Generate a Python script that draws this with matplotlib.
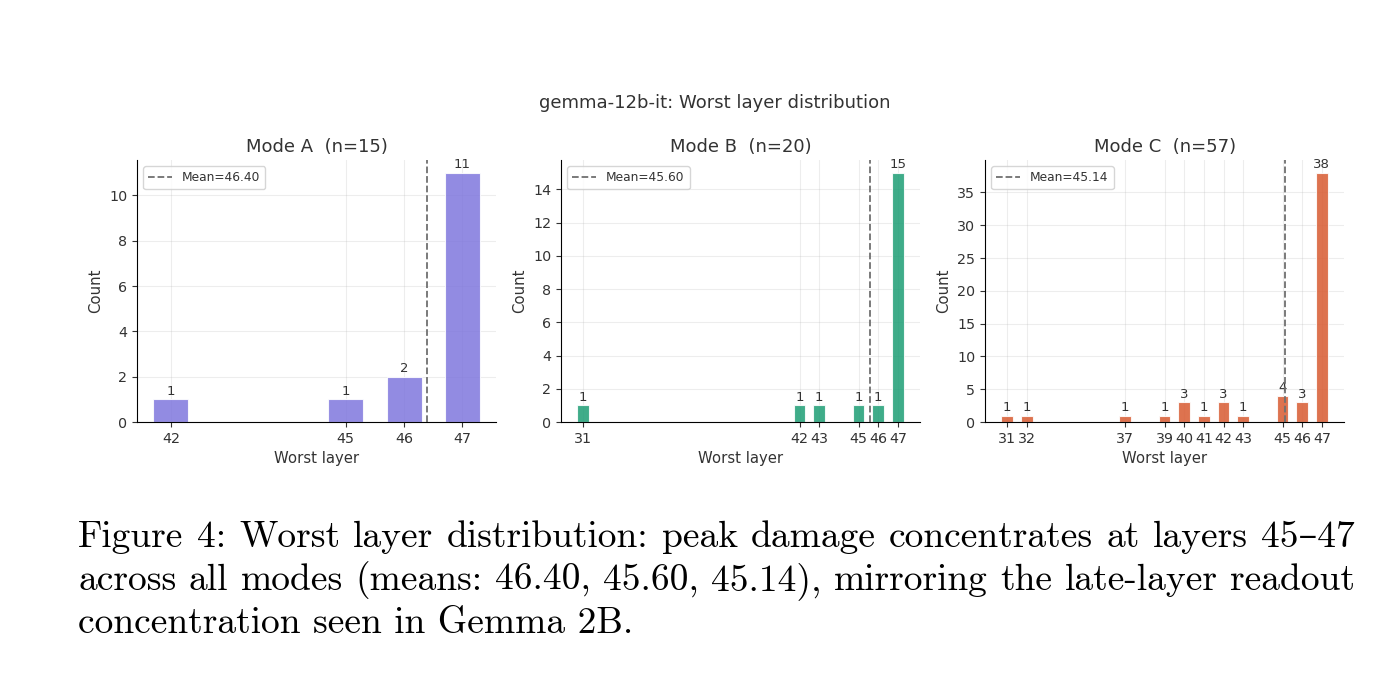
import matplotlib
matplotlib.use("Agg")
import matplotlib.pyplot as plt

# worst layer histograms per mode
layers_a = [42, 45, 46, 47]
counts_a = [1, 1, 2, 11]
layers_b = [31, 42, 43, 45, 46, 47]
counts_b = [1, 1, 1, 1, 1, 15]
layers_c = [31, 32, 37, 39, 40, 41, 42, 43, 45, 46, 47]
counts_c = [1, 1, 1, 1, 3, 1, 3, 1, 4, 3, 38]

modes = ["A", "B", "C"]
colors = ["#7F77DD", "#1D9E75", "#D85A30"]

caption = [
    "Figure 4:  Worst layer distribution:  peak damage concentrates at layers 45\u201347",
    "across all modes (means:  46.40, 45.60, 45.14), mirroring the late-layer readout",
    "concentration seen in Gemma 2B.",
]

plt.rcParams['font.family'] = ['DejaVu Sans']
plt.rcParams['text.color'] = '#333333'
plt.rcParams['axes.labelcolor'] = '#333333'
plt.rcParams['xtick.color'] = '#333333'
plt.rcParams['ytick.color'] = '#333333'

fig = plt.figure(figsize=(13.92, 7), dpi=100)
fig.text(715 / 1392, 1 - 103 / 700, "gemma-12b-it: Worst layer distribution",
         ha='center', va='center', fontsize=13)

data = [(layers_a, counts_a), (layers_b, counts_b), (layers_c, counts_c)]
lefts = [137, 561, 985]
for i, (layers, counts) in enumerate(data):
    ax = fig.add_axes([lefts[i] / 1392, 0.397, 0.258, 0.374])
    bars = ax.bar(layers, counts, width=0.6, color=colors[i], alpha=0.85,
                  edgecolor='white', linewidth=0.8, zorder=2)
    ax.bar_label(bars, fontsize=9.5, padding=1, color='#333333')
    mean = sum(l * c for l, c in zip(layers, counts)) / sum(counts)
    ax.axvline(mean, color='#707070', linestyle='--', linewidth=1.3,
               label="Mean=%.2f" % mean, zorder=3)
    ax.set_xticks(layers)
    ax.set_title("Mode %s  (n=%d)" % (modes[i], sum(counts)), fontsize=13)
    ax.set_xlabel("Worst layer", fontsize=10.7)
    ax.set_ylabel("Count", fontsize=10.7)
    ax.tick_params(labelsize=10.3)
    ax.grid(True, alpha=0.22, zorder=0)
    ax.set_axisbelow(True)
    ax.spines['top'].set_visible(False)
    ax.spines['right'].set_visible(False)
    ax.legend(loc='upper left', fontsize=8.8)

# caption, first two lines justified
r = fig.canvas.get_renderer()
x0, x1 = 78, 1355
baselines = [547, 590, 633]
for k, line in enumerate(caption):
    y = 1 - baselines[k] / 700
    kw = dict(fontsize=27, family=['cmr10', 'DejaVu Serif'], color='black', va='baseline')
    if k == len(caption) - 1:
        fig.text(x0 / 1392, y, line, **kw)
        continue
    words = line.split()
    texts = [fig.text(0, y, w, **kw) for w in words]
    widths = [t.get_window_extent(r).width for t in texts]
    gap = (x1 - x0 - sum(widths)) / (len(words) - 1)
    x = x0
    for t, w in zip(texts, widths):
        t.set_x(x / 1392)
        x += w + gap

fig.savefig("out.png", dpi=100)
